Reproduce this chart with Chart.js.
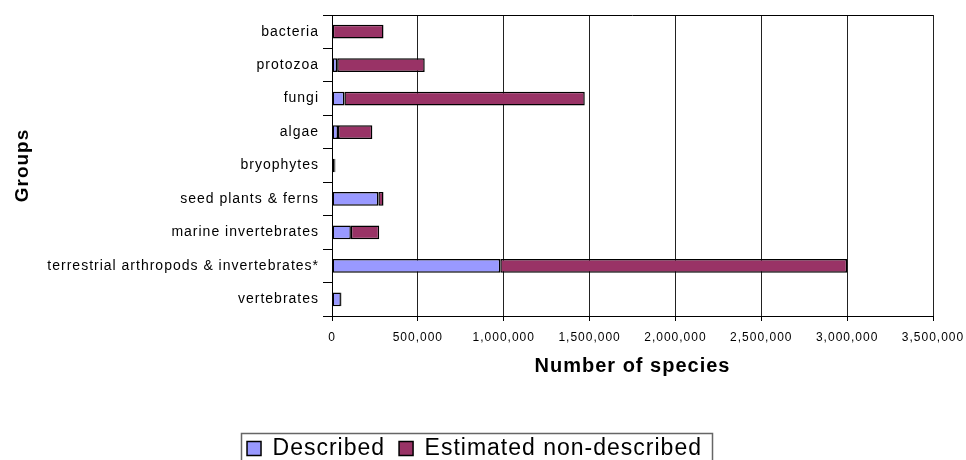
<!DOCTYPE html>
<html>
<head>
<meta charset="utf-8">
<script src="https://cdn.jsdelivr.net/npm/chart.js@4.4.1/dist/chart.umd.min.js"></script>
<style>
  html, body { margin: 0; padding: 0; background: #fff; }
  canvas { display: block; }
</style>
</head>
<body>
<canvas id="speciesChart" width="966" height="460"></canvas>
<script>
// groups, top to bottom as in the figure
const groups = [
    'bacteria',
    'protozoa',
    'fungi',
    'algae',
    'bryophytes',
    'seed plants & ferns',
    'marine invertebrates',
    'terrestrial arthropods & invertebrates*',
    'vertebrates'
];

// number of species
const described = [4000, 30000, 72000, 35000, 16000, 270000, 110000, 980000, 52000];
const estimatedNonDescribed = [296000, 510000, 1400000, 200000, 4000, 30000, 165000, 2020000, 3000];

const xTicks = [0, 500000, 1000000, 1500000, 2000000, 2500000, 3000000, 3500000];

const FONT = "'Liberation Sans', Arial, sans-serif";

// Excel-like spaced text + the frame line on top of the plot and the legend box
const excelLook = {
    id: 'excelLook',
    beforeLayout(chart) {
        chart.ctx.letterSpacing = '1px';
    },
    afterLayout(chart) {
        // legend sits a little right of the canvas centre in the original
        chart.legend.left += 8;
        chart.legend.right += 8;
    },
    beforeDraw(chart) {
        chart.ctx.letterSpacing = '1px';
    },
    afterDraw(chart) {
        const { ctx, chartArea, legend } = chart;
        ctx.save();
        ctx.strokeStyle = '#000';
        ctx.lineWidth = 1;
        ctx.beginPath();
        ctx.moveTo(chartArea.left, Math.round(chartArea.top) + 0.5);
        ctx.lineTo(chartArea.right, Math.round(chartArea.top) + 0.5);
        ctx.stroke();

        // box round the legend
        const boxes = legend.legendHitBoxes;
        if (boxes && boxes.length) {
            const left = Math.min(...boxes.map(b => b.left)) - 6;
            const right = Math.max(...boxes.map(b => b.left + b.width)) + 10;
            const top = boxes[0].top + boxes[0].height / 2 - 16;
            ctx.strokeStyle = '#666';
            ctx.lineWidth = 1.5;
            ctx.strokeRect(Math.round(left) + 0.5, Math.round(top) + 0.5, Math.round(right - left), 60);
        }
        ctx.restore();
    }
};

new Chart(document.getElementById('speciesChart'), {
    type: 'bar',
    data: {
        labels: groups,
        datasets: [
            {
                label: 'Described',
                data: described,
                backgroundColor: '#9999FF',
                borderColor: '#000',
                borderWidth: 1.5,
                borderSkipped: false
            },
            {
                label: 'Estimated non-described',
                data: estimatedNonDescribed,
                backgroundColor: '#993366',
                borderColor: '#000',
                borderWidth: 1.5,
                borderSkipped: false
            }
        ]
    },
    options: {
        indexAxis: 'y',
        responsive: false,
        animation: false,
        devicePixelRatio: 1,
        datasets: {
            bar: { categoryPercentage: 1, barPercentage: 0.41 }
        },
        layout: {
            padding: { top: 15, right: 33, bottom: -10, left: 0 }
        },
        scales: {
            x: {
                stacked: true,
                min: 0,
                max: 3500000,
                afterBuildTicks(scale) {
                    scale.ticks = xTicks.map(v => ({ value: v }));
                },
                afterFit(scale) {
                    scale.height = 107;
                    scale.paddingRight = 0;
                },
                ticks: {
                    color: '#000',
                    padding: 9,
                    font: { family: FONT, size: 12 },
                    callback: value => value.toLocaleString('en-US')
                },
                grid: {
                    color: '#222',
                    lineWidth: 1,
                    tickLength: 5,
                    tickColor: '#000'
                },
                border: { color: '#000', width: 1 },
                title: {
                    display: true,
                    text: 'Number of species',
                    color: '#000',
                    font: { family: FONT, size: 20, weight: 'bold' },
                    padding: { top: 0, bottom: 45 }
                }
            },
            y: {
                stacked: true,
                afterFit(scale) {
                    scale.width = 332;
                },
                ticks: {
                    color: '#000',
                    padding: 4,
                    font: { family: FONT, size: 14 }
                },
                grid: {
                    offset: true,
                    drawOnChartArea: false,
                    tickLength: 9,
                    color: '#000',
                    tickColor: '#000'
                },
                border: { color: '#000', width: 1 },
                title: {
                    display: true,
                    text: 'Groups',
                    color: '#000',
                    font: { family: FONT, size: 19, weight: 'bold' },
                    padding: { top: 11, bottom: 0 }
                }
            }
        },
        plugins: {
            legend: {
                position: 'bottom',
                labels: {
                    color: '#000',
                    boxWidth: 14,
                    boxHeight: 14,
                    padding: 14,
                    font: { family: FONT, size: 23 }
                }
            },
            tooltip: { enabled: false }
        }
    },
    plugins: [excelLook]
});
</script>
</body>
</html>
